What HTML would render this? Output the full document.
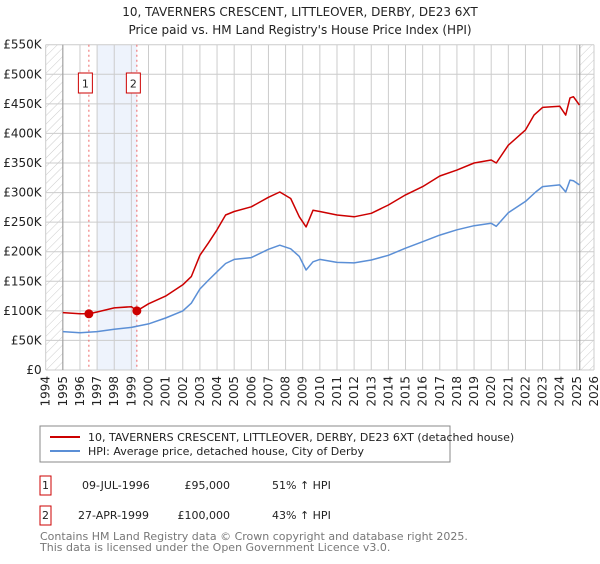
<!DOCTYPE html>
<html><head><meta charset="utf-8"><style>
body{margin:0;background:#fff;font-family:"DejaVu Sans","Liberation Sans",sans-serif;}
svg text{font-family:"DejaVu Sans","Liberation Sans",sans-serif;}
</style></head><body>
<svg id="chart" width="600" height="560" viewBox="0 0 600 560">
<defs><pattern id="hatch" patternUnits="userSpaceOnUse" width="6" height="6" patternTransform="rotate(45)"><line x1="0" y1="0" x2="0" y2="6" stroke="#ccc" stroke-width="1"/></pattern></defs>
<text x="300" y="16" text-anchor="middle" font-size="12" fill="#222">10, TAVERNERS CRESCENT, LITTLEOVER, DERBY, DE23 6XT</text>
<text x="300" y="34" text-anchor="middle" font-size="12" fill="#222">Price paid vs. HM Land Registry's House Price Index (HPI)</text>
<g id="plot"></g>
<g>
<rect x="40" y="426" width="410" height="36" fill="#fff" stroke="#888"/>
<line x1="50" y1="437" x2="80" y2="437" stroke="#cc0000" stroke-width="2"/>
<text x="88" y="441" font-size="11" fill="#222">10, TAVERNERS CRESCENT, LITTLEOVER, DERBY, DE23 6XT (detached house)</text>
<line x1="50" y1="451" x2="80" y2="451" stroke="#5b8fd6" stroke-width="2"/>
<text x="88" y="455" font-size="11" fill="#222">HPI: Average price, detached house, City of Derby</text>
</g>
<g font-size="11" fill="#222">
<rect x="40" y="476" width="11" height="19" fill="#fff" stroke="#cc0000"/>
<text x="45.5" y="489" text-anchor="middle">1</text>
<text x="82" y="489">09-JUL-1996</text>
<text x="230" y="489" text-anchor="end">£95,000</text>
<text x="272" y="489">51% ↑ HPI</text>
<rect x="40" y="506" width="11" height="19" fill="#fff" stroke="#cc0000"/>
<text x="45.5" y="519" text-anchor="middle">2</text>
<text x="78" y="519">27-APR-1999</text>
<text x="230" y="519" text-anchor="end">£100,000</text>
<text x="272" y="519">43% ↑ HPI</text>
</g>
<text x="40" y="540" font-size="11" fill="#777">Contains HM Land Registry data © Crown copyright and database right 2025.</text>
<text x="40" y="551" font-size="11" fill="#777">This data is licensed under the Open Government Licence v3.0.</text>
</svg>
<script>
const yTicks=[0,50,100,150,200,250,300,350,400,450,500,550];
const yTickLabels=["£0","£50K","£100K","£150K","£200K","£250K","£300K","£350K","£400K","£450K","£500K","£550K"];
const xYears=[1994,1995,1996,1997,1998,1999,2000,2001,2002,2003,2004,2005,2006,2007,2008,2009,2010,2011,2012,2013,2014,2015,2016,2017,2018,2019,2020,2021,2022,2023,2024,2025,2026];
const hpiYears=[1995,1996,1997,1998,1999,2000,2001,2002,2002.5,2003,2003.5,2004,2004.5,2005,2006,2007,2007.66,2008.3,2008.8,2009.2,2009.6,2010,2011,2012,2013,2014,2015,2016,2017,2018,2019,2020,2020.3,2021,2022,2022.6,2023,2024,2024.35,2024.6,2024.8,2025.15];
const hpiValues=[65,63,65,69,72,78,88,100,113,137,152,166,180,187,190,204,211,205,192,169,183,187,182,181,186,194,206,217,228,237,244,248,243,266,285,301,310,313,301,321,320,313];
const priceYears=[1995,1996,1996.52,1997,1998,1999,1999.32,2000,2001,2002,2002.5,2003,2003.5,2004,2004.5,2005,2006,2007,2007.66,2008.3,2008.8,2009.2,2009.6,2010,2011,2012,2013,2014,2015,2016,2017,2018,2019,2020,2020.3,2021,2022,2022.5,2023,2024,2024.35,2024.6,2024.8,2025.15];
const priceValues=[97,95,95,98,105,107,100,112,125,144,158,194,215,237,262,268,276,292,301,290,259,242,270,268,262,259,265,279,296,310,328,338,350,355,350,380,406,431,444,446,431,460,462,448];
const saleYears=[1996.52,1999.32];
const saleValues=[95,100];
const saleLabels=["1","2"];

const NS="http://www.w3.org/2000/svg";
const X0=45.7,X1=594,Y0=370,Y1=44.7;
const xs=y=>X0+(y-1994)/(2026-1994)*(X1-X0);
const ys=v=>Y0-v/550*(Y0-Y1);
const g=document.getElementById('plot');
function mk(tag,attrs){const e=document.createElementNS(NS,tag);for(const k in attrs)e.setAttribute(k,attrs[k]);g.appendChild(e);return e;}
let e;
e=mk('rect',{x:xs(1997),y:Y1,width:xs(saleYears[1])-xs(1997),height:Y0-Y1,fill:'#eef3fc'});


xYears.forEach(yr=>{e=mk('line',{x1:xs(yr),x2:xs(yr),y1:Y1,y2:Y0,stroke:'#cccccc','stroke-width':1});


e=mk('text',{x:0,y:0,'font-size':12,fill:'#222','text-anchor':'end',transform:`translate(${xs(yr)+4},${Y0+6}) rotate(-90)`});e.textContent=yr;

});
yTicks.forEach((v,i)=>{e=mk('line',{x1:X0,x2:X1,y1:ys(v),y2:ys(v),stroke:'#cccccc','stroke-width':1});


e=mk('text',{x:X0-4,y:ys(v)+4,'font-size':12,fill:'#222','text-anchor':'end'});e.textContent=yTickLabels[i];

});
e=mk('rect',{x:X0,y:Y1,width:xs(1995)-X0,height:Y0-Y1,fill:'url(#hatch)'});


e=mk('rect',{x:xs(2025.17),y:Y1,width:X1-xs(2025.17),height:Y0-Y1,fill:'url(#hatch)'});


[1995,2025.17].forEach(yr=>{e=mk('line',{x1:xs(yr),x2:xs(yr),y1:Y1,y2:Y0,stroke:'#999','stroke-width':1});

});
saleYears.forEach((yr,i)=>{e=mk('line',{x1:xs(yr),x2:xs(yr),y1:Y1,y2:Y0,stroke:'#e66','stroke-width':1,'stroke-dasharray':'2,3'});


const bx=xs(yr)-3.5;
e=mk('rect',{x:bx-7,y:73,width:14,height:20,fill:'#fff',stroke:'#cc0000'});


e=mk('text',{x:bx,y:87.5,'font-size':11,fill:'#222','text-anchor':'middle'});e.textContent=saleLabels[i];

});
function path(xa,va,color,name){const d=xa.map((x,i)=>(i?'L':'M')+xs(x).toFixed(1)+','+ys(va[i]).toFixed(1)).join('');
e=mk('path',{d:d,fill:'none',stroke:color,'stroke-width':1.5,'stroke-linejoin':'round'});

}
path(hpiYears,hpiValues,'#5b8fd6','hpi-line');
path(priceYears,priceValues,'#cc0000','price-line');
saleYears.forEach((yr,i)=>{e=mk('circle',{cx:xs(yr),cy:ys(saleValues[i]),r:4.5,fill:'#cc0000'});

});
</script>
</body></html>
